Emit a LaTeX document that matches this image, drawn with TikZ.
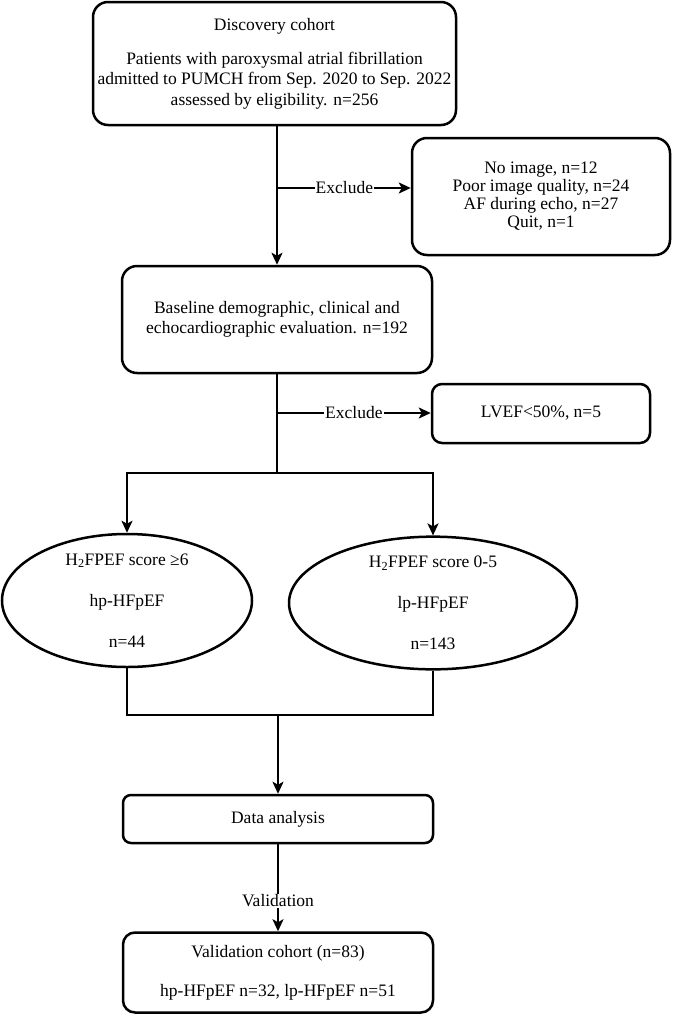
\documentclass[tikz,border=0pt]{standalone}
\usepackage{fontspec}
\setmainfont{Liberation Serif}
\usetikzlibrary{arrows.meta,shapes.geometric}
\begin{document}
\begin{tikzpicture}[x=1pt,y=-1pt,
  line width=2.5pt,
  txt/.style={font=\fontsize{17.5}{20.5}\selectfont},
  box/.style={draw, line width=2.5pt, rounded corners=#1, align=center, inner sep=0pt, txt},
  box/.default=15pt,
  oval/.style={draw, ellipse, line width=2.5pt, align=center, inner sep=0pt, font=\fontsize{17.5}{41}\selectfont},
  arr/.style={-{Stealth[length=12pt,width=11pt,inset=3pt]}},
  lbl/.style={fill=white, inner sep=1pt, txt}
]
\useasboundingbox (0,0) rectangle (673,1015);

\node[box, minimum width=363pt, minimum height=123pt] (top) at (274.5,63.5)
  {Discovery cohort\\[13.5pt]Patients with paroxysmal atrial fibrillation\\admitted to PUMCH from Sep. 2020 to Sep. 2022\\assessed by eligibility. n=256};

\node[box, minimum width=258pt, minimum height=117pt, font=\fontsize{17.5}{18}\selectfont] (exc1) at (541,196.5)
  {No image, n=12\\Poor image quality, n=24\\AF during echo, n=27\\Quit, n=1};

\node[box, minimum width=310pt, minimum height=107pt, font=\fontsize{17.5}{20}\selectfont] (base) at (277,319.5)
  {Baseline demographic, clinical and\\echocardiographic evaluation. n=192};

\node[box=10pt, minimum width=218pt, minimum height=59pt] (exc2) at (541,413.5) {LVEF<50\%, n=5};

\node[oval, minimum width=250pt, minimum height=133pt] (hp) at (127,600.5)
  {H\textsubscript{2}FPEF score ≥6\\hp-HFpEF\\n=44};
\node[oval, minimum width=288pt, minimum height=128pt] (lp) at (433,603)
  {H\textsubscript{2}FPEF score 0-5\\lp-HFpEF\\n=143};

\node[box=8pt, minimum width=310pt, minimum height=48pt] (data) at (278,819) {Data analysis};

\node[box=12pt, minimum width=310pt, minimum height=80pt, font=\fontsize{17.5}{39}\selectfont] (val) at (278,972.5)
  {Validation cohort (n=83)\\hp-HFpEF n=32, lp-HFpEF n=51};

\coordinate (c1) at (278,188);
\coordinate (c2) at (277,413);
\coordinate (split) at (277,473);
\coordinate (merge) at (278,715);

\draw[arr] (top.south -| base.north) -- (base.north);
\draw[arr] (c1) -- node[lbl]{Exclude} (c1 -| exc1.west);
\draw (base.south) -- (split);
\draw[arr] (c2) -- node[lbl]{Exclude} (c2 -| exc2.west);
\draw[arr] (split) -| (hp.north);
\draw[arr] (split) -| (lp.north);
\draw (hp.south) |- (merge);
\draw (lp.south) |- (merge);
\draw[arr] (merge) -- (data.north);
\draw[arr] (data.south) -- node[lbl, pos=0.65]{Validation} (val.north);
\end{tikzpicture}
\end{document}
